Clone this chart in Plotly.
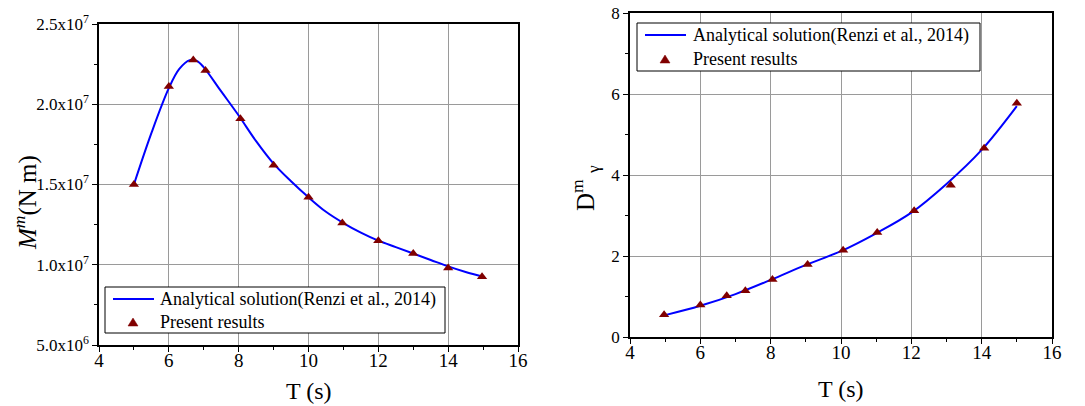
import plotly.graph_objects as go

# ---- Left panel: bending moment vs wave period ----
t_curve_m = [5.0, 5.5, 6.0, 6.3, 6.6, 6.8, 7.0, 7.5, 8.0, 8.5, 9.0, 9.5, 10.0,
             10.5, 11.0, 11.5, 12.0, 12.5, 13.0, 13.5, 14.0, 14.5, 15.0]
m_curve = [1.50e7, 1.82e7, 2.10e7, 2.22e7, 2.275e7, 2.27e7, 2.23e7, 2.08e7, 1.93e7,
           1.77e7, 1.63e7, 1.52e7, 1.42e7, 1.33e7, 1.26e7, 1.20e7, 1.15e7, 1.11e7,
           1.07e7, 1.03e7, 9.9e6, 9.55e6, 9.25e6]
t_pts_m = [5.0, 6.0, 6.7, 7.05, 8.05, 9.0, 10.0, 10.97, 12.0, 13.0, 14.0, 14.97]
m_pts = [1.50e7, 2.11e7, 2.275e7, 2.21e7, 1.91e7, 1.62e7, 1.42e7, 1.26e7,
         1.15e7, 1.07e7, 9.8e6, 9.25e6]
m_tickvals = [5e6, 1e7, 1.5e7, 2e7, 2.5e7]
m_ticktext = ["5.0x10<sup>6</sup>", "1.0x10<sup>7</sup>", "1.5x10<sup>7</sup>",
              "2.0x10<sup>7</sup>", "2.5x10<sup>7</sup>"]

# ---- Right panel: damping coefficient vs wave period ----
t_curve_d = [5.0, 6.0, 7.0, 8.0, 9.0, 10.0, 11.0, 12.0, 13.0, 14.0, 15.0]
d_curve = [0.54, 0.77, 1.06, 1.41, 1.78, 2.12, 2.56, 3.07, 3.78, 4.62, 5.70]
t_pts_d = [4.97, 6.0, 6.75, 7.28, 8.05, 9.05, 10.06, 11.03, 12.08, 13.12, 14.07, 15.0]
d_pts = [0.55, 0.79, 1.02, 1.14, 1.42, 1.79, 2.14, 2.58, 3.12, 3.75, 4.66, 5.77]

x_ticks = [4, 6, 8, 10, 12, 14, 16]
y2_ticks = [0, 2, 4, 6, 8]

line_label = "Analytical solution(Renzi et al., 2014)"
marker_label = "Present results"

FONT = "Liberation Serif"
LINE_C = "#0000FF"
MARK_C = "#800000"
GRID_C = "#9a9a9a"

W, H = 1085, 406


def px(x):
    return x / W


def py(y):
    return 1 - y / H


fig = go.Figure()

fig.add_trace(go.Scatter(x=t_curve_m, y=m_curve, mode="lines",
                         line=dict(color=LINE_C, width=2, shape="spline"),
                         name=line_label, xaxis="x", yaxis="y"))
fig.add_trace(go.Scatter(x=t_pts_m, y=m_pts, mode="markers",
                         marker=dict(symbol="triangle-up", size=9, color=MARK_C),
                         name=marker_label, xaxis="x", yaxis="y"))
fig.add_trace(go.Scatter(x=t_curve_d, y=d_curve, mode="lines",
                         line=dict(color=LINE_C, width=2, shape="spline"),
                         name=line_label, xaxis="x2", yaxis="y2"))
fig.add_trace(go.Scatter(x=t_pts_d, y=d_pts, mode="markers",
                         marker=dict(symbol="triangle-up", size=9, color=MARK_C),
                         name=marker_label, xaxis="x2", yaxis="y2"))


def xaxis_style(domain, anchor):
    return dict(domain=domain, anchor=anchor, range=[4, 16], tickvals=x_ticks, automargin=False,
                ticks="outside", ticklen=5, tickwidth=1, tickcolor="black", ticklabelstandoff=-8,
                minor=dict(ticks="outside", ticklen=3, tickcolor="black", dtick=1, showgrid=False),
                showline=True, linecolor="black", linewidth=1.5, mirror=True,
                showgrid=True, gridcolor=GRID_C, gridwidth=1, zeroline=False,
                tickfont=dict(family=FONT, size=19, color="black"))


def yaxis_style(domain, anchor, rng, minor_dtick):
    return dict(domain=domain, anchor=anchor, range=rng, automargin=False,
                ticks="outside", ticklen=5, tickwidth=1, tickcolor="black",
                minor=dict(ticks="outside", ticklen=3, tickcolor="black", dtick=minor_dtick, showgrid=False),
                showline=True, linecolor="black", linewidth=1.5, mirror=True,
                showgrid=True, gridcolor=GRID_C, gridwidth=1, zeroline=False,
                tickfont=dict(family=FONT, size=17, color="black"))


xl = [px(99), px(518)]
yl = [py(345), py(24)]
xr = [px(630), px(1052)]
yr = [py(337), py(13)]

ya1 = yaxis_style(yl, "x", [5e6, 2.5e7], 2.5e6)
ya1.update(tickvals=m_tickvals, ticktext=m_ticktext)
ya2 = yaxis_style(yr, "x2", [0, 8], 1)
ya2.update(tickvals=y2_ticks)

shapes = []
annotations = []


def add_legend(box, line_seg, row1_y, tri_x, row2_y, text_x):
    """Framed legend: box=(x0, y0, x1, y1) in page pixels."""
    x0, y0, x1, y1 = box
    shapes.append(dict(type="rect", xref="paper", yref="paper",
                       x0=px(x0), x1=px(x1), y0=py(y1), y1=py(y0),
                       line=dict(color="black", width=1), fillcolor="white", layer="above"))
    shapes.append(dict(type="line", xref="paper", yref="paper",
                       x0=px(line_seg[0]), x1=px(line_seg[1]), y0=py(row1_y), y1=py(row1_y),
                       line=dict(color=LINE_C, width=2), layer="above"))
    h, hw = 8, 5
    path = "M {} {} L {} {} L {} {} Z".format(px(tri_x - hw), py(row2_y + h / 2),
                                             px(tri_x + hw), py(row2_y + h / 2),
                                             px(tri_x), py(row2_y - h / 2))
    shapes.append(dict(type="path", xref="paper", yref="paper", path=path,
                       fillcolor=MARK_C, line=dict(color=MARK_C, width=0.5), layer="above"))
    for txt, yy in ((line_label, row1_y), (marker_label, row2_y)):
        annotations.append(dict(text=txt, x=px(text_x), y=py(yy), xref="paper", yref="paper",
                                xanchor="left", yanchor="middle", showarrow=False,
                                font=dict(family=FONT, size=18, color="black")))


add_legend((105, 287, 445, 333), (113, 154), 299, 133, 322, 158)
add_legend((637, 23, 980, 71), (645, 686), 35, 665, 59, 691)

annotations += [
    dict(text="T (s)", x=(xl[0] + xl[1]) / 2, y=py(391), xref="paper", yref="paper",
         xanchor="center", yanchor="middle",
         showarrow=False, font=dict(family=FONT, size=24, color="black")),
    dict(text="T (s)", x=(xr[0] + xr[1]) / 2, y=py(389), xref="paper", yref="paper",
         xanchor="center", yanchor="middle",
         showarrow=False, font=dict(family=FONT, size=24, color="black")),
    dict(text="<i>M</i><sup><i>m</i></sup>(N m)", x=px(25), y=py(203), xref="paper", yref="paper",
         xanchor="center", yanchor="middle",
         textangle=-90, showarrow=False, font=dict(family=FONT, size=25, color="black")),
    dict(text="D<sup>m</sup> <sub>γ</sub>", x=px(585), y=py(188), xref="paper", yref="paper",
         xanchor="center", yanchor="middle",
         textangle=-90, showarrow=False, font=dict(family=FONT, size=25, color="black")),
]

fig.update_layout(
    width=W, height=H,
    margin=dict(l=0, r=0, t=0, b=0, autoexpand=False),
    paper_bgcolor="white", plot_bgcolor="white",
    showlegend=False,
    xaxis=xaxis_style(xl, "y"),
    yaxis=ya1,
    xaxis2=xaxis_style(xr, "y2"),
    yaxis2=ya2,
    shapes=shapes,
    annotations=annotations,
)

fig.write_html("out.html")
